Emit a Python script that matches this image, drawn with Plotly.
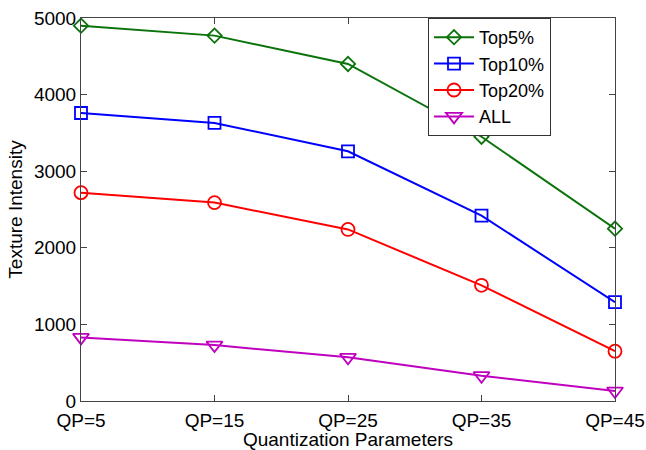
import plotly.graph_objects as go

qp = [5, 15, 25, 35, 45]
tick_labels = ["QP=5", "QP=15", "QP=25", "QP=35", "QP=45"]
top5 = [4900, 4770, 4400, 3450, 2250]
top10 = [3760, 3630, 3260, 2420, 1290]
top20 = [2720, 2590, 2240, 1510, 650]
all_vals = [830, 730, 570, 330, 130]

series = [
    ("Top5%", top5, "#0A720A", "diamond-open", 11),
    ("Top10%", top10, "#0000FF", "square-open", 12),
    ("Top20%", top20, "#FF0000", "circle-open", 13),
    ("ALL", all_vals, "#BF00BF", "triangle-down-open", 14),
]

fig = go.Figure()
for name, vals, color, sym, sz in series:
    fig.add_trace(go.Scatter(
        x=qp, y=vals, name=name, mode="lines+markers",
        line=dict(color=color, width=2),
        marker=dict(symbol=sym, size=sz, color=color, line=dict(width=1.8, color=color)),
        cliponaxis=False,
    ))

font = "Liberation Sans, Arial, sans-serif"
fig.update_layout(
    width=646, height=450,
    margin=dict(l=81, r=31, t=18, b=49, autoexpand=False),
    paper_bgcolor="white", plot_bgcolor="white",
    font=dict(family=font, size=19, color="black"),
    showlegend=True,
    legend=dict(x=(428 - 81) / 534, y=1.0, xanchor="left", yanchor="top",
                bordercolor="#333", borderwidth=1, bgcolor="white",
                font=dict(size=18), itemwidth=40, tracegroupgap=0),
    xaxis=dict(
        range=[5, 45], tickvals=qp, ticktext=tick_labels, automargin=False,
        ticklabeloverflow="allow", ticklabelstandoff=2,
        showgrid=False, zeroline=False, showline=True, linecolor="#444",
        linewidth=1, mirror="ticks", ticks="inside", ticklen=6, tickcolor="#444",
        title=dict(text="Quantization Parameters", standoff=0, font=dict(size=19)),
        tickfont=dict(size=19),
    ),
    yaxis=dict(
        range=[0, 5000], dtick=1000, automargin=False,
        showgrid=False, zeroline=False, showline=True, linecolor="#444",
        linewidth=1, mirror="ticks", ticks="inside", ticklen=6, tickcolor="#444",
        title=dict(text="Texture Intensity", standoff=6, font=dict(size=19)),
        tickfont=dict(size=19),
    ),
)

fig.write_html("out.html", config={"displayModeBar": False},
               post_script="document.body.style.margin='0';")
